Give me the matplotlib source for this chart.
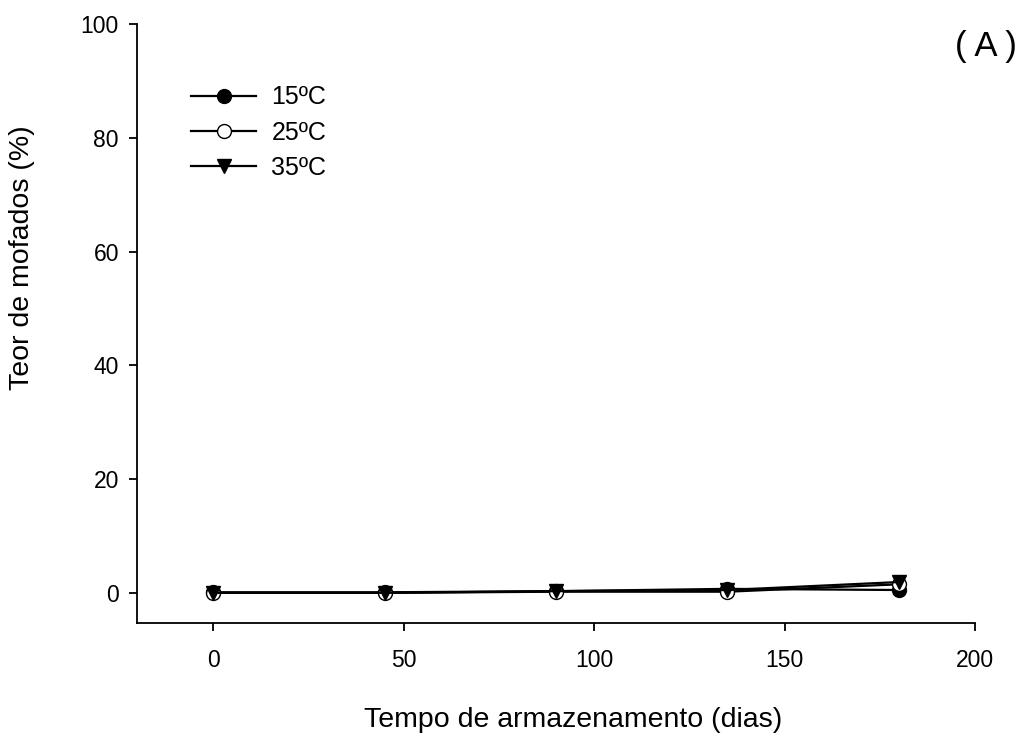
import matplotlib.pyplot as plt

plt.rcParams['font.family'] = ['Liberation Sans', 'DejaVu Sans']

dias = [0, 45, 90, 135, 180]
mofados_15 = [0.1, 0.1, 0.3, 0.7, 0.5]
mofados_25 = [0.0, 0.0, 0.2, 0.2, 1.5]
mofados_35 = [0.0, 0.0, 0.3, 0.5, 1.9]

fig = plt.figure(figsize=(10.22, 7.33), dpi=100)
ax = fig.add_axes([137 / 1022, 1 - 623 / 733, (975 - 137) / 1022, (623 - 24) / 733])

ax.plot(dias, mofados_15, '-o', color='black', mfc='black', ms=10, lw=1.6, label='15ºC')
ax.plot(dias, mofados_25, '-o', color='black', mfc='white', ms=10, lw=1.6, label='25ºC')
ax.plot(dias, mofados_35, '-v', color='black', mfc='black', ms=10, lw=1.6, label='35ºC')

ax.set_xlim(-20, 200)
ax.set_ylim(-5.3, 100)
ax.set_xticks([0, 50, 100, 150, 200])
ax.set_yticks([0, 20, 40, 60, 80, 100])
ax.spines['top'].set_visible(False)
ax.spines['right'].set_visible(False)
ax.tick_params(labelsize=16.5, length=6, width=1.3, direction='out')
ax.tick_params(axis='y', pad=7)
ax.tick_params(axis='x', pad=13)
for s in ['left', 'bottom']:
    ax.spines[s].set_linewidth(1.3)

ax.set_xlabel('Tempo de armazenamento (dias)', fontsize=20.5)
ax.set_ylabel('Teor de mofados (%)', fontsize=20.5)
ax.xaxis.set_label_coords(0.521, -0.14)
ax.yaxis.set_label_coords(-0.122, 0.61)

ax.text(1.013, 0.962, '( A )', transform=ax.transAxes, fontsize=25, ha='center', va='center')

ax.legend(loc='upper left', bbox_to_anchor=(0.038, 0.935), frameon=False, fontsize=18,
          handlelength=2.6, handletextpad=0.6, labelspacing=0.45)

fig.savefig('out.png', dpi=100)
